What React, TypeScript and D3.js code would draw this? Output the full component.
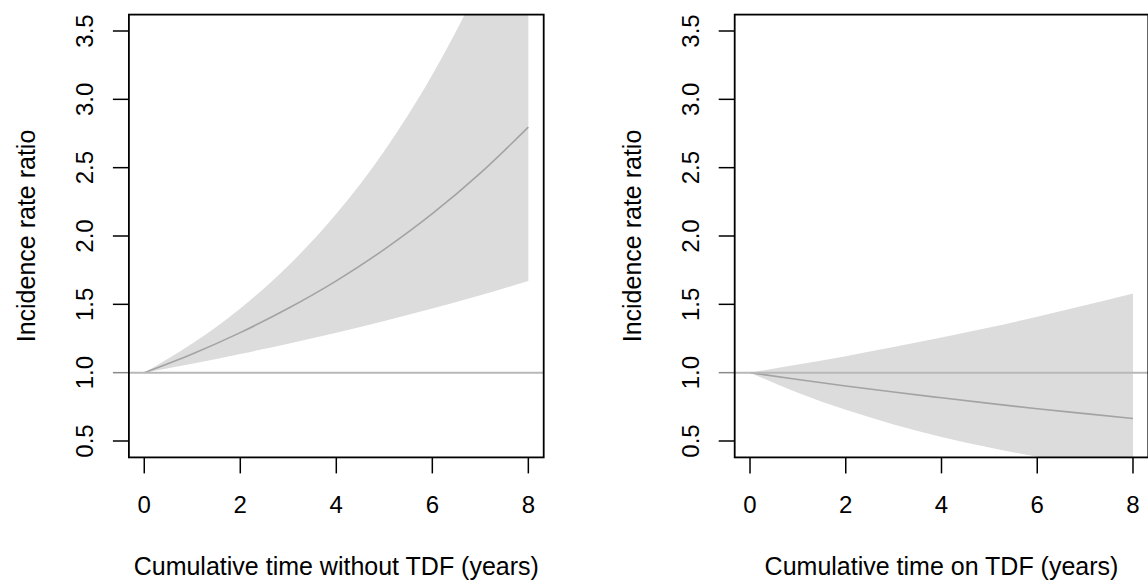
import React, { useEffect, useRef } from 'react'
import * as d3 from 'd3'

// years since start
const years = [0, 1, 2, 3, 4, 5, 6, 7, 8]

// left panel: cumulative time without TDF
const withoutEst = [1.0, 1.137, 1.293, 1.471, 1.672, 1.902, 2.163, 2.46, 2.797]
const withoutLower = [1.0, 1.066, 1.137, 1.212, 1.292, 1.378, 1.469, 1.566, 1.67]
const withoutUpper = [1.0, 1.213, 1.47, 1.783, 2.162, 2.622, 3.18, 3.856, 4.677]

// right panel: cumulative time on TDF
const onEst = [1.0, 0.95, 0.903, 0.858, 0.816, 0.775, 0.736, 0.7, 0.665]
const onLower = [1.0, 0.853, 0.728, 0.621, 0.529, 0.452, 0.385, 0.329, 0.28]
const onUpper = [1.0, 1.059, 1.121, 1.187, 1.257, 1.331, 1.409, 1.493, 1.58]

const xTicks = [0, 2, 4, 6, 8]
const yTicks = [0.5, 1.0, 1.5, 2.0, 2.5, 3.0, 3.5]
const yTickLabels = ['0.5', '1.0', '1.5', '2.0', '2.5', '3.0', '3.5']

const xLabels = ['Cumulative time without TDF (years)', 'Cumulative time on TDF (years)']
const yLabel = 'Incidence rate ratio'

const W = 1148
const H = 587
const FONT = '"Liberation Sans", Arial, Helvetica, sans-serif'

type Panel = {
  id: string,
  left: number,
  right: number,
  est: number[],
  lower: number[],
  upper: number[],
  xLabel: string,
}

const panels: Panel[] = [
  { id: 'p1', left: 128.9, right: 543.7, est: withoutEst, lower: withoutLower, upper: withoutUpper, xLabel: xLabels[0] },
  { id: 'p2', left: 734.7, right: 1148.3, est: onEst, lower: onLower, upper: onUpper, xLabel: xLabels[1] },
]

const top = 14.6
const bottom = 457.4

const App = () => {
  const ref = useRef<SVGSVGElement>(null)

  useEffect(() => {
    const svg = d3.select(ref.current)
    svg.selectAll('*').remove()

    const y = d3.scaleLinear().domain([0.38, 3.62]).range([bottom, top])

    panels.forEach((p) => {
      const x = d3.scaleLinear().domain([-0.32, 8.32]).range([p.left, p.right])
      const g = svg.append('g')

      g.append('clipPath')
        .attr('id', `clip-${p.id}`)
        .append('rect')
        .attr('x', p.left)
        .attr('y', top)
        .attr('width', p.right - p.left)
        .attr('height', bottom - top)

      const plot = g.append('g').attr('clip-path', `url(#clip-${p.id})`)

      const band = d3.area<number>()
        .x((d, i) => x(years[i]))
        .y0((d, i) => y(p.lower[i]))
        .y1((d) => y(d))
        .curve(d3.curveMonotoneX)

      plot.append('path')
        .attr('d', band(p.upper))
        .attr('fill', '#dcdcdc')

      const line = d3.line<number>()
        .x((d, i) => x(years[i]))
        .y((d) => y(d))
        .curve(d3.curveMonotoneX)

      plot.append('path')
        .attr('d', line(p.est))
        .attr('fill', 'none')
        .attr('stroke', '#a3a3a3')
        .attr('stroke-width', 1.6)

      // y ticks
      yTicks.forEach((t, i) => {
        g.append('line')
          .attr('x1', p.left - 16)
          .attr('x2', p.left)
          .attr('y1', y(t))
          .attr('y2', y(t))
          .attr('stroke', t === 1 ? '#8a8a8a' : '#000')
          .attr('stroke-width', 1.5)
        g.append('text')
          .attr('transform', `translate(${p.left - 36}, ${y(t)}) rotate(-90)`)
          .attr('text-anchor', 'middle')
          .attr('font-family', FONT)
          .attr('font-size', 24)
          .attr('fill', '#000')
          .text(yTickLabels[i])
      })

      // reference line at 1
      g.append('line')
        .attr('x1', p.left)
        .attr('x2', Math.min(p.right, W))
        .attr('y1', y(1))
        .attr('y2', y(1))
        .attr('stroke', '#b8b8b8')
        .attr('stroke-width', 2)

      // x ticks
      xTicks.forEach((t) => {
        g.append('line')
          .attr('x1', x(t))
          .attr('x2', x(t))
          .attr('y1', bottom)
          .attr('y2', bottom + 16)
          .attr('stroke', '#000')
          .attr('stroke-width', 1.5)
        g.append('text')
          .attr('x', x(t))
          .attr('y', 513)
          .attr('text-anchor', 'middle')
          .attr('font-family', FONT)
          .attr('font-size', 24)
          .attr('fill', '#000')
          .text(String(t))
      })

      // box
      g.append('rect')
        .attr('x', p.left)
        .attr('y', top)
        .attr('width', p.right - p.left)
        .attr('height', bottom - top)
        .attr('fill', 'none')
        .attr('stroke', '#000')
        .attr('stroke-width', 1.8)

      g.append('text')
        .attr('x', (p.left + p.right) / 2)
        .attr('y', 575)
        .attr('text-anchor', 'middle')
        .attr('font-family', FONT)
        .attr('font-size', 25)
        .attr('fill', '#000')
        .text(p.xLabel)

      g.append('text')
        .attr('transform', `translate(${p.left - 94}, ${(top + bottom) / 2}) rotate(-90)`)
        .attr('text-anchor', 'middle')
        .attr('font-family', FONT)
        .attr('font-size', 25)
        .attr('fill', '#000')
        .text(yLabel)
    })
  }, [])

  return (
    <svg
      ref={ref}
      width={W}
      height={H}
      style={{ position: 'absolute', left: 0, top: 0, background: '#fff' }}
    />
  )
}

export default App
